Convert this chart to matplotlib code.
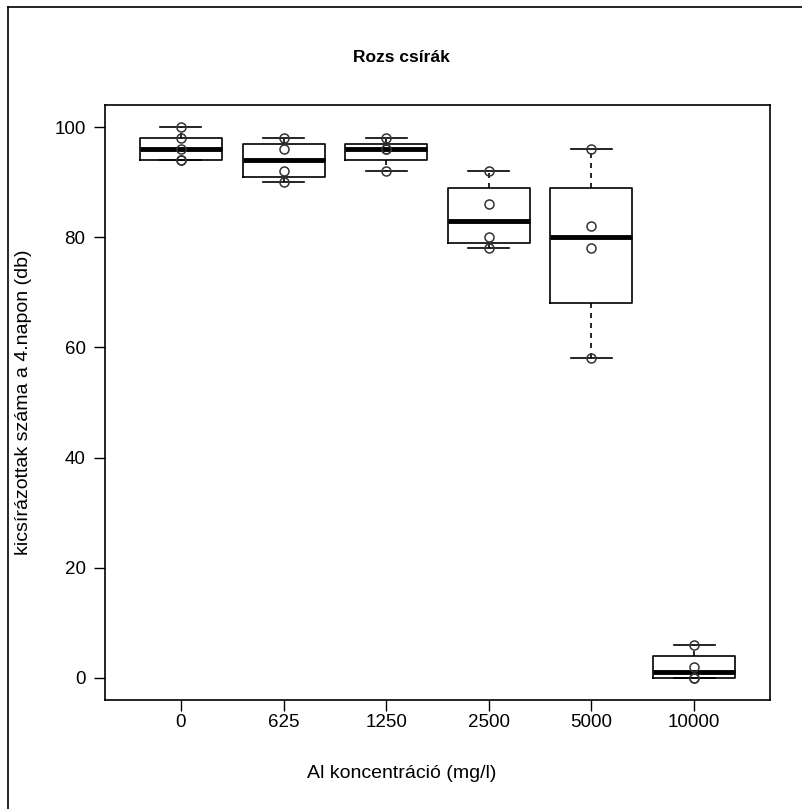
import numpy as np
import matplotlib.pyplot as plt
from matplotlib.lines import Line2D

plt.rcParams['font.family'] = ['Liberation Sans', 'DejaVu Sans']

# groups (Al concentration, mg/l)
groups = ["0", "625", "1250", "2500", "5000", "10000"]

# box statistics
medians = [96, 94, 96, 83, 80, 1]
q1 = [94, 91, 94, 79, 68, 0]
q3 = [98, 97, 97, 89, 89, 4]
whislo = [94, 90, 92, 78, 58, 0]
whishi = [100, 98, 98, 92, 96, 6]

# individual observations
pts_0 = [100, 98, 96, 94, 94]
pts_625 = [98, 96, 92, 90]
pts_1250 = [98, 96, 96, 92]
pts_2500 = [92, 86, 80, 78]
pts_5000 = [96, 82, 78, 58]
pts_10000 = [6, 2, 0, 0]
points = [pts_0, pts_625, pts_1250, pts_2500, pts_5000, pts_10000]

fig = plt.figure(figsize=(8.03, 8.09), dpi=100)
ax = fig.add_axes([105/803, 1 - 700/809, 665/803, 595/809])

stats = []
for i in range(len(groups)):
    stats.append(dict(med=medians[i], q1=q1[i], q3=q3[i],
                      whislo=whislo[i], whishi=whishi[i], label=groups[i]))

pos = np.arange(1, len(groups) + 1)
ax.bxp(stats, positions=pos, widths=0.8, capwidths=0.4, showfliers=False,
       boxprops=dict(color='black', linewidth=1.2),
       whiskerprops=dict(color='black', linewidth=1.2, linestyle=(0, (3, 3))),
       capprops=dict(color='black', linewidth=1.2),
       medianprops=dict(color='black', linewidth=3.5, solid_capstyle='butt'))

for p, vals in zip(pos, points):
    ax.plot(np.full(len(vals), p), vals, 'o', mfc='none', mec='#333333',
            ms=6.5, mew=1.1, zorder=3)

ax.set_xlim(0.26, 6.74)
ax.set_ylim(-4, 104)
ax.set_yticks([0, 20, 40, 60, 80, 100])
ax.set_xticks(pos)
ax.set_xticklabels(groups)
ax.tick_params(axis='both', direction='out', length=8, width=1, labelsize=13.5, color='black')
ax.tick_params(axis='y', pad=6)
ax.tick_params(axis='x', pad=2)
for s in ax.spines.values():
    s.set_linewidth(1.2)

fig.text(0.5, 1 - 58/809, "Rozs csírák", ha='center', va='center',
         fontsize=12.5, fontweight='bold')
fig.text(0.5, 1 - 774/809, "Al koncentráció (mg/l)", ha='center', va='center', fontsize=14)
fig.text(24/803, 1 - 402/809, "kicsírázottak száma a 4.napon (db)", ha='center',
         va='center', rotation=90, fontsize=14)

# outer frame (left and top edges)
fig.add_artist(Line2D([8/803, 8/803], [0, 1 - 7/809], color='black', lw=1.2))
fig.add_artist(Line2D([8/803, 1], [1 - 7/809, 1 - 7/809], color='black', lw=1.2))

fig.savefig("out.png", dpi=100)
